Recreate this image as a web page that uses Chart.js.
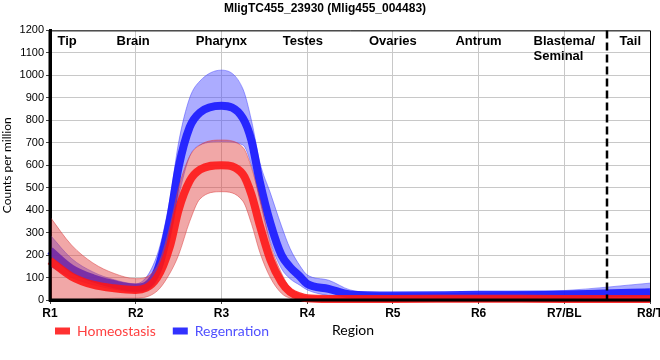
<!DOCTYPE html>
<html>
<head>
<meta charset="utf-8">
<script src="https://cdn.jsdelivr.net/npm/chart.js@4.4.0/dist/chart.umd.min.js"></script>
<style>
html, body { margin: 0; padding: 0; background: #fff; }
</style>
</head>
<body>
<canvas id="myChart" width="660" height="360"></canvas>
<script>
// axis labels
const regionTicks = ['R1', 'R2', 'R3', 'R4', 'R5', 'R6', 'R7/BL', 'R8/T'];
const regionNames = ['Tip', 'Brain', 'Pharynx', 'Testes', 'Ovaries', 'Antrum', 'Blastema/\nSeminal', 'Tail'];
const regionNamePos = [1.2, 1.97, 3, 3.95, 5, 6, 7, 7.77];
const tailBoundary = 7.5;

// positions along the body (region index)
const xPos = [1, 1.25, 1.5, 1.75, 2, 2.25, 2.4, 2.5, 2.63, 2.75, 3, 3.25, 3.35, 3.45, 3.57, 3.7, 3.8, 3.92, 4, 4.25, 4.5, 5, 6, 7, 8];

// Homeostasis
const homeoMean  = [175, 105, 68, 52, 45, 100, 240, 400, 530, 580, 600, 560, 470, 330, 180, 80, 36, 15, 8, 5, 5, 5, 6, 5, 5];
const homeoUpper = [370, 245, 165, 118, 95, 150, 330, 500, 640, 690, 712, 680, 590, 450, 250, 120, 55, 25, 18, 15, 14, 14, 15, 14, 14];
const homeoLower = [0, 0, 3, 8, 8, 40, 120, 200, 350, 450, 482, 440, 340, 210, 100, 30, 8, 0, -5, -6, -6, -6, -5, -6, -6];

// Regenration
const regenMean  = [220, 140, 97, 70, 55, 130, 360, 590, 770, 835, 865, 810, 710, 522, 343, 200, 147, 103, 72, 50, 25, 20, 23, 25, 35];
const regenUpper = [290, 185, 125, 90, 72, 200, 450, 700, 900, 975, 1023, 940, 800, 610, 477, 330, 230, 150, 112, 88, 45, 28, 30, 42, 75];
const regenLower = [150, 100, 68, 48, 35, 90, 270, 460, 640, 690, 705, 690, 600, 440, 260, 140, 95, 65, 45, 20, 12, 12, 15, 14, 12];

const legendTextColors = ['#ff4040', '#5050ff'];

function pts(values) {
    return values.map((v, i) => ({ x: xPos[i], y: v }));
}

function meanLine(label, values, color, order) {
    return {
        label: label,
        data: pts(values),
        borderColor: color,
        backgroundColor: color,
        borderWidth: 8,
        pointRadius: 0,
        cubicInterpolationMode: 'monotone',
        fill: false,
        clip: false,
        order: order
    };
}

function bandEdge(values, edgeColor, fillColor, fillTarget, order) {
    return {
        label: '',
        data: pts(values),
        borderColor: edgeColor,
        backgroundColor: fillColor,
        borderWidth: 1,
        pointRadius: 0,
        cubicInterpolationMode: 'monotone',
        fill: fillTarget,
        clip: false,
        order: order
    };
}

const extras = {
    id: 'extras',
    afterDatasetsDraw(chart) {
        const ctx = chart.ctx;
        const a = chart.chartArea;
        const x = chart.scales.x;
        ctx.save();
        // frame
        ctx.strokeStyle = '#000';
        ctx.lineWidth = 1;
        ctx.beginPath();
        ctx.moveTo(a.left, a.top + 0.5);
        ctx.lineTo(a.right + 0.5, a.top + 0.5);
        ctx.lineTo(a.right + 0.5, a.bottom);
        ctx.stroke();
        ctx.lineWidth = 3;
        ctx.beginPath();
        ctx.moveTo(a.left, a.top);
        ctx.lineTo(a.left, a.bottom);
        ctx.lineTo(a.right, a.bottom);
        ctx.stroke();
        // tail boundary
        const bx = Math.round(x.getPixelForValue(tailBoundary));
        ctx.lineWidth = 2.5;
        ctx.setLineDash([8, 4]);
        ctx.beginPath();
        ctx.moveTo(bx, a.top);
        ctx.lineTo(bx, a.bottom);
        ctx.stroke();
        ctx.setLineDash([]);
        // region names
        ctx.fillStyle = '#000';
        ctx.font = 'bold 13px "Liberation Sans", Arial, sans-serif';
        ctx.textBaseline = 'alphabetic';
        regionNames.forEach((name, i) => {
            const lines = name.split('\n');
            const cx = x.getPixelForValue(regionNamePos[i]);
            const w = Math.max(...lines.map(l => ctx.measureText(l).width));
            lines.forEach((l, j) => {
                ctx.textAlign = 'left';
                ctx.fillText(l, cx - w / 2, a.top + 15 + j * 15);
            });
        });
        // x axis name next to legend
        const lg = chart.legend;
        ctx.font = '14px Lato, sans-serif';
        ctx.textAlign = 'left';
        ctx.textBaseline = 'middle';
        ctx.fillText('Region', 332, lg.top + 23);
        ctx.restore();
    }
};

const ctx = document.getElementById('myChart').getContext('2d');
const myChart = new Chart(ctx, {
    type: 'line',
    data: {
        datasets: [
            meanLine('Homeostasis', homeoMean, 'rgba(255, 20, 20, 0.88)', 0),
            meanLine('Regenration', regenMean, 'rgba(20, 20, 255, 0.88)', 2),
            bandEdge(homeoLower, 'rgba(220, 60, 60, 0.5)', 'rgba(225, 60, 60, 0.45)', false, 1),
            bandEdge(homeoUpper, 'rgba(220, 60, 60, 0.5)', 'rgba(225, 60, 60, 0.45)', 2, 1),
            bandEdge(regenLower, 'rgba(70, 70, 255, 0.5)', 'rgba(70, 70, 255, 0.45)', false, 3),
            bandEdge(regenUpper, 'rgba(70, 70, 255, 0.5)', 'rgba(70, 70, 255, 0.45)', 4, 3)
        ]
    },
    options: {
        responsive: false,
        animation: false,
        layout: { padding: { left: 0, right: 10, top: 0, bottom: -3 } },
        plugins: {
            title: {
                display: true,
                text: 'MligTC455_23930 (Mlig455_004483)',
                color: '#000',
                font: { family: '"Liberation Sans", Arial, sans-serif', size: 12, weight: 'bold' },
                padding: { top: 1, bottom: 15 }
            },
            legend: {
                position: 'bottom',
                align: 'start',
                labels: {
                    boxWidth: 15,
                    boxHeight: 7,
                    padding: 17,
                    font: { family: 'Lato, sans-serif', size: 14 },
                    generateLabels: chart => Chart.defaults.plugins.legend.labels.generateLabels(chart)
                        .filter(item => item.datasetIndex < 2)
                        .map(item => Object.assign(item, {
                            fontColor: legendTextColors[item.datasetIndex],
                            lineWidth: 0
                        }))
                }
            },
            tooltip: { enabled: false }
        },
        scales: {
            x: {
                type: 'linear',
                min: 1,
                max: 8,
                ticks: {
                    stepSize: 1,
                    autoSkip: false,
                    maxRotation: 0,
                    color: '#000',
                    padding: 2,
                    font: { family: '"Liberation Sans", Arial, sans-serif', size: 12, weight: 'bold' },
                    callback: v => regionTicks[v - 1]
                },
                grid: { color: '#c8c8c8', tickColor: '#444', tickLength: 4 },
                border: { color: '#000', width: 3 },
                afterFit: s => { s.height = 22; s.paddingLeft = 0; s.paddingRight = 0; }
            },
            y: {
                min: 0,
                max: 1200,
                ticks: {
                    stepSize: 100,
                    color: '#000',
                    padding: 2,
                    font: { family: '"Liberation Sans", Arial, sans-serif', size: 11 },
                    callback: v => String(v)
                },
                grid: { color: '#c8c8c8', tickColor: '#444', tickLength: 4 },
                border: { color: '#000', width: 3 },
                title: {
                    display: true,
                    text: 'Counts per million',
                    color: '#000',
                    padding: 0,
                    font: { family: 'Lato, sans-serif', size: 12 }
                },
                afterFit: s => { s.width = 50; s.paddingTop = 0; s.paddingBottom = 0; }
            }
        }
    },
    plugins: [extras, {
        id: 'legendShift',
        afterLayout(chart) {
            chart.legend.left = 38;
            chart.legend.top -= 15;
            chart.legend.bottom -= 15;
        }
    }]
});
</script>
</body>
</html>
